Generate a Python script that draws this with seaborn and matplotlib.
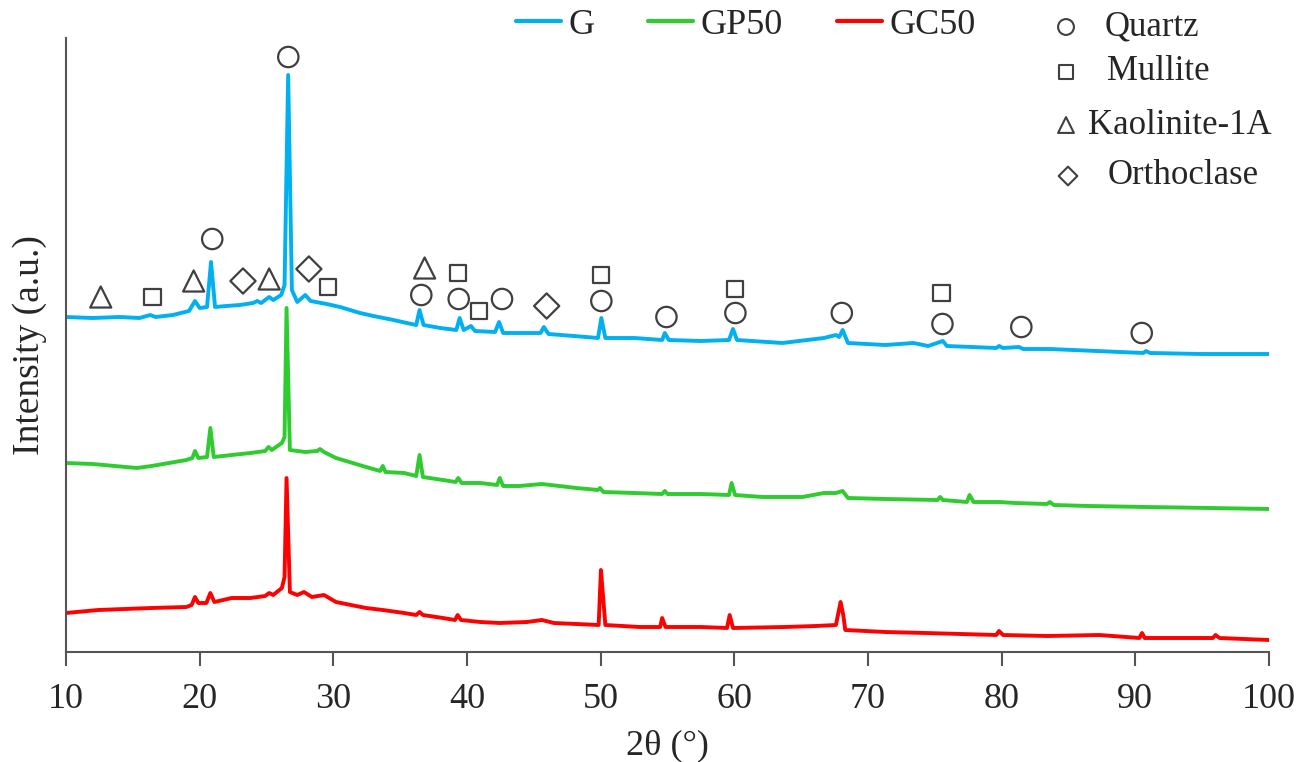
import numpy as np
import pandas as pd
import matplotlib
matplotlib.use("Agg")
import matplotlib.pyplot as plt
import seaborn as sns

# ---------------- data ----------------
g_x = [10.0, 12.0, 14.0, 15.5, 16.3, 16.7, 18.0, 19.2, 19.65, 20.0, 20.55, 20.85, 21.15,
       22.0, 23.0, 24.0, 24.3, 24.6, 25.2, 25.5, 26.1, 26.35, 26.62, 26.9, 27.3, 27.9,
       28.3, 29.5, 30.5, 32.0, 33.0, 34.5, 35.5, 36.2, 36.45, 36.75, 38.0, 39.2, 39.45,
       39.75, 40.3, 40.6, 42.1, 42.4, 42.7, 44.5, 45.5, 45.75, 46.1, 48.0, 49.8, 50.05,
       50.35, 52.5, 54.6, 54.8, 55.1, 57.5, 59.6, 59.9, 60.2, 63.6, 66.7, 67.6, 67.85,
       68.1, 68.5, 71.3, 73.4, 74.5, 75.6, 75.9, 79.6, 79.8, 80.1, 81.3, 81.6, 83.6,
       90.6, 90.8, 91.1, 95.0, 100.0]
g_y = [335, 334, 335, 334, 337, 335, 337, 341, 351, 344, 345, 390, 345,
       346, 347, 349, 351, 349, 355, 352, 357, 367, 577, 362, 350, 357,
       351, 348, 345, 339, 336, 332, 329, 327, 342, 327, 324, 322, 334,
       322, 326, 321, 320, 330, 319, 319, 319, 325, 318, 316, 314, 334,
       314, 314, 312, 319, 312, 311, 312, 323, 312, 309, 314, 317, 315,
       322, 309, 307, 309, 306, 311, 306, 304, 306, 304, 305, 303, 303,
       299, 301, 299, 298, 298]

gp_x = [10.0, 12.0, 15.3, 16.4, 19.0, 19.45, 19.65, 19.9, 20.55, 20.8, 21.05, 22.4, 23.8,
        24.9, 25.15, 25.4, 26.15, 26.35, 26.5, 26.75, 27.9, 28.8, 29.0, 29.3, 30.2,
        32.45, 33.5, 33.7, 33.9, 35.3, 36.2, 36.45, 36.7, 38.2, 39.15, 39.35, 39.6,
        41.0, 42.25, 42.45, 42.7, 43.9, 45.6, 48.2, 49.8, 49.95, 50.2, 52.5, 54.6,
        54.8, 55.0, 57.5, 59.6, 59.8, 60.05, 62.1, 65.1, 66.7, 67.6, 68.1, 68.5, 71.3,
        75.2, 75.4, 75.6, 77.4, 77.6, 77.9, 79.8, 81.0, 83.4, 83.6, 83.9, 86.5, 90.8,
        95.6, 100.0]
gp_y = [189, 188, 184, 186, 192, 194, 201, 194, 195, 224, 195, 197, 199,
        201, 205, 202, 209, 215, 344, 202, 200, 201, 203, 200, 194,
        185, 181, 186, 180, 179, 176, 197, 175, 172, 170, 174, 169,
        169, 167, 174, 166, 166, 168, 164, 162, 164, 160, 159, 158,
        161, 158, 158, 157, 169, 157, 155, 155, 159, 159, 161, 154, 153,
        152, 155, 152, 150, 157, 150, 150, 149, 148, 150, 147, 146, 145,
        144, 143]

gc_x = [10.0, 12.4, 16.4, 19.0, 19.4, 19.65, 19.9, 20.5, 20.8, 21.1, 22.4, 23.8, 24.9,
        25.2, 25.5, 26.15, 26.35, 26.5, 26.75, 27.3, 27.8, 28.4, 29.3, 30.2, 32.45,
        33.7, 35.3, 36.2, 36.45, 36.7, 38.2, 39.1, 39.3, 39.55, 41.0, 42.45, 44.5,
        45.6, 46.5, 48.2, 49.85, 50.02, 50.2, 50.35, 52.9, 54.45, 54.6, 54.85, 57.5,
        59.45, 59.65, 59.9, 63.8, 66.1, 67.6, 67.95, 68.15, 68.3, 71.3, 74.3, 79.6,
        79.8, 80.1, 83.4, 87.3, 90.3, 90.5, 90.7, 95.8, 96.0, 96.3, 100.0]
gc_y = [39, 42, 44, 45, 47, 55, 49, 49, 59, 50, 54, 54, 56,
        59, 57, 64, 75, 174, 60, 57, 60, 55, 57, 50, 44,
        42, 39, 37, 40, 37, 34, 32, 37, 32, 30, 29, 30,
        32, 29, 28, 27, 82, 52, 27, 25, 25, 34, 25, 25,
        24, 37, 24, 25, 26, 27, 50, 37, 22, 20, 19, 17,
        21, 17, 16, 17, 14, 19, 14, 14, 17, 14, 12]

series_names = ["G", "GP50", "GC50"]
series_colors = ["#00B0F0", "#2ECC2E", "#FF0000"]

# phase markers (2theta, intensity position)
quartz_x = [26.63, 20.94, 36.58, 39.38, 42.62, 50.05, 54.92, 60.08, 68.04, 75.57, 81.47, 90.48]
quartz_y = [595, 413, 357, 353, 353, 351, 335, 339, 339, 328, 325, 319]
mullite_x = [16.47, 29.62, 39.33, 40.88, 50.02, 60.08, 75.5]
mullite_y = [355, 365, 379, 341, 377, 363, 359]
kaolinite_x = [12.6, 19.55, 25.2, 36.83]
kaolinite_y = [355, 371, 373, 384]
orthoclase_x = [23.24, 28.17, 45.96]
orthoclase_y = [371, 383, 346]

phase_names = ["Quartz", "Mullite", "Kaolinite-1A", "Orthoclase"]

x_ticks = [10, 20, 30, 40, 50, 60, 70, 80, 90, 100]

# ---------------- figure ----------------
sns.set_theme(style="white")
plt.rcParams["font.family"] = ["Liberation Serif", "DejaVu Serif"]
plt.rcParams["font.size"] = 26

fig = plt.figure(figsize=(13, 7.62), dpi=100)
ax = fig.add_axes([66 / 1300, 110 / 762, 1203 / 1300, 614 / 762])

df = pd.concat([
    pd.DataFrame({"x": g_x, "y": g_y, "s": "G"}),
    pd.DataFrame({"x": gp_x, "y": gp_y, "s": "GP50"}),
    pd.DataFrame({"x": gc_x, "y": gc_y, "s": "GC50"}),
], ignore_index=True)

sns.lineplot(data=df, x="x", y="y", hue="s", hue_order=series_names,
             palette=series_colors, linewidth=2.8, ax=ax, sort=False,
             estimator=None, legend=True)

mk_col = "#404040"
mk = dict(facecolors="none", edgecolors=mk_col, linewidths=1.6, zorder=5)
ax.scatter(quartz_x, quartz_y, marker="o", s=215, **mk)
ax.scatter(mullite_x, mullite_y, marker="s", s=135, **mk)
ax.scatter(kaolinite_x, kaolinite_y, marker="^", s=230, **mk)
ax.scatter(orthoclase_x, orthoclase_y, marker="D", s=165, **mk)

ax.set_xlim(10, 100)
ax.set_ylim(0, 614)
ax.set_xticks(x_ticks)
ax.set_xticklabels([str(t) for t in x_ticks], fontsize=26)
ax.set_yticks([])
ax.tick_params(axis="x", direction="out", length=10, width=1.5, color="#555555",
               pad=12, bottom=True)
for side in ["top", "right"]:
    ax.spines[side].set_visible(False)
for side in ["left", "bottom"]:
    ax.spines[side].set_color("#555555")
    ax.spines[side].set_linewidth(1.5)

ax.set_xlabel("2θ (°)", fontsize=26, labelpad=10)
ax.set_ylabel("Intensity (a.u.)", fontsize=27, labelpad=14)

# series legend
handles, labels = ax.get_legend_handles_labels()
leg = ax.legend(handles, labels, loc="center", bbox_to_anchor=(0.565, 1.021),
                ncol=3, frameon=False, fontsize=26, handlelength=1.25,
                handletextpad=0.2, columnspacing=1.5, borderaxespad=0)
for h in leg.get_lines():
    h.set_linewidth(3)

# phase legend (figure-pixel placement)
def fx(px):
    return px / 1300

def fy(py):
    return 1 - py / 762

leg_items = [("o", 130, 1066, 27, 1105), ("s", 100, 1066, 72, 1107),
             ("^", 130, 1066, 125, 1088), ("D", 90, 1068, 176, 1108)]
for (m, s, mx, my, tx), name in zip(leg_items, phase_names):
    ax.scatter([fx(mx)], [fy(my)], marker=m, s=s, facecolors="none",
               edgecolors=mk_col, linewidths=1.5, transform=fig.transFigure,
               clip_on=False, zorder=6)
    fig.text(fx(tx), fy(my), name, ha="left", va="center", fontsize=25)

fig.savefig("out.png", dpi=100)
